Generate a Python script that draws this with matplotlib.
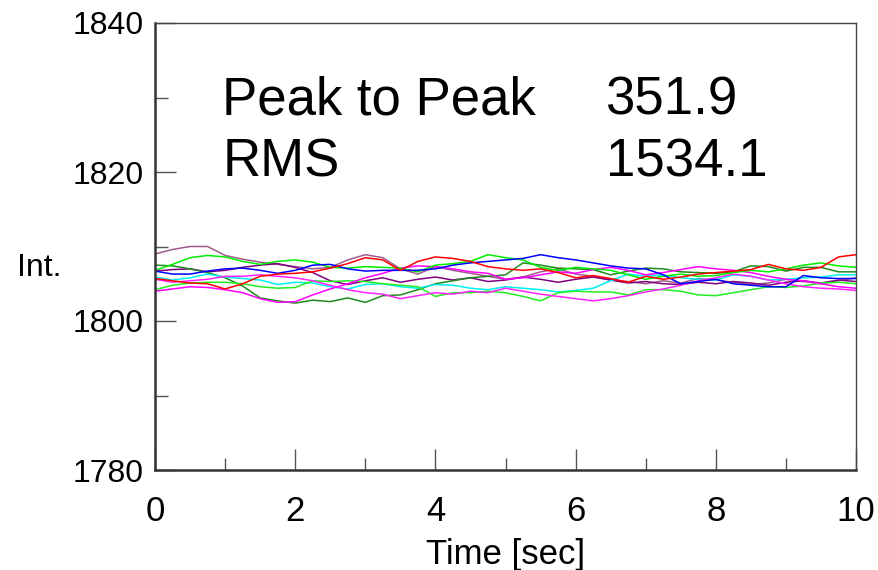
import numpy as np
import matplotlib
matplotlib.use("Agg")
import matplotlib.pyplot as plt
from matplotlib.ticker import MultipleLocator
from matplotlib import font_manager

# ---------------- data ----------------
red = [1805.7,1805.4,1805.1,1805.0,1804.3,1805.0,1806.0,1806.3,1806.4,1806.6,
       1807.1,1807.7,1808.5,1808.2,1806.8,1808.0,1808.6,1808.4,1808.0,1807.3,
       1807.0,1806.8,1807.0,1806.5,1805.8,1806.1,1805.7,1805.2,1806.0,1805.6,
       1805.9,1806.3,1806.5,1806.7,1806.9,1807.6,1807.0,1806.8,1807.2,1808.6,1808.9]
blue = [1806.7,1806.3,1806.3,1806.7,1807.0,1807.1,1806.8,1806.4,1806.8,1807.5,
        1807.6,1807.0,1806.7,1806.8,1806.8,1806.8,1807.0,1807.5,1807.8,1808.0,
        1808.2,1808.4,1808.9,1808.5,1808.2,1807.8,1807.4,1807.1,1807.0,1806.2,
        1805.0,1805.3,1805.6,1805.0,1804.8,1804.6,1804.6,1806.1,1805.8,1805.7,1805.7]
dkgreen = [1807.5,1807.4,1807.0,1806.5,1805.8,1804.7,1803.1,1802.7,1802.4,1802.8,
           1802.6,1803.1,1802.5,1803.4,1803.5,1804.2,1805.0,1805.4,1805.8,1806.0,
           1806.2,1807.8,1807.5,1807.1,1807.0,1806.9,1806.2,1806.7,1807.1,1807.0,
           1806.6,1806.5,1806.4,1806.6,1807.4,1807.3,1806.7,1807.2,1807.2,1806.6,1806.6]
mauve = [1809.0,1809.6,1810.0,1810.0,1808.8,1808.3,1807.9,1807.6,1807.3,1807.0,
         1807.2,1808.2,1808.9,1808.5,1807.0,1806.3,1807.3,1806.8,1806.4,1806.0,
         1805.6,1805.9,1806.6,1807.0,1806.3,1806.0,1805.5,1805.3,1805.0,1805.4,
         1805.1,1805.7,1805.5,1805.2,1804.9,1805.1,1805.6,1805.3,1805.0,1805.4,1805.8]
purple = [1806.7,1806.9,1807.0,1806.6,1806.8,1807.2,1807.5,1807.7,1807.2,1806.5,
          1805.4,1804.9,1805.4,1805.8,1805.2,1805.6,1805.9,1805.5,1805.8,1805.3,
          1805.5,1805.9,1805.6,1805.2,1805.6,1805.9,1805.5,1805.1,1805.3,1805.0,
          1804.9,1805.2,1805.0,1805.3,1805.1,1804.8,1805.2,1805.4,1805.1,1805.5,1805.3]
cyan = [1805.9,1805.5,1805.8,1806.3,1805.9,1805.7,1805.5,1804.9,1805.2,1805.1,
        1804.6,1804.3,1804.9,1805.0,1804.6,1804.4,1804.9,1804.8,1804.4,1804.2,
        1804.6,1804.4,1804.2,1803.9,1804.1,1804.4,1805.4,1806.3,1806.0,1806.2,
        1805.8,1805.6,1805.5,1806.2,1806.0,1805.5,1805.6,1805.8,1805.9,1806.2,1806.2]
lime_hi = [1806.8,1807.6,1808.5,1808.8,1808.6,1808.0,1807.6,1808.0,1808.2,1807.9,
           1807.2,1807.1,1807.3,1807.2,1807.1,1806.6,1807.5,1807.7,1808.0,1808.9,
           1808.5,1808.2,1807.2,1806.8,1807.2,1807.0,1806.8,1806.2,1805.6,1806.0,
           1806.3,1806.0,1806.1,1806.5,1806.8,1806.6,1807.0,1807.5,1807.8,1807.4,1807.2]
lime_lo = [1804.2,1804.8,1805.1,1805.2,1805.2,1805.0,1804.6,1804.4,1804.5,1805.4,
           1805.3,1805.4,1805.3,1805.0,1804.8,1804.6,1803.3,1803.8,1803.8,1804.0,
           1803.8,1803.3,1802.7,1803.8,1804.0,1803.9,1803.9,1803.5,1804.2,1804.2,
           1804.0,1803.5,1803.4,1803.8,1804.2,1804.6,1804.5,1804.7,1805.1,1805.2,1805.0]
magenta_a = [1804.0,1804.3,1804.6,1804.5,1804.2,1803.8,1803.0,1802.5,1802.6,1803.5,
             1804.3,1805.0,1805.8,1806.4,1807.1,1807.4,1807.3,1807.0,1806.6,1806.4,
             1805.6,1805.8,1806.2,1806.6,1806.4,1806.9,1807.2,1806.8,1806.2,1806.5,
             1806.9,1807.3,1807.0,1806.8,1806.5,1806.0,1805.6,1805.4,1805.0,1804.6,1804.4]
magenta_b = [1805.6,1805.2,1805.4,1805.6,1806.0,1806.0,1806.2,1806.0,1805.8,1805.4,
             1804.8,1804.2,1803.8,1803.6,1803.0,1803.4,1803.8,1803.6,1804.0,1803.8,
             1804.4,1804.0,1803.6,1803.3,1803.0,1802.7,1803.0,1803.4,1803.9,1804.3,
             1804.8,1805.4,1805.8,1806.3,1806.0,1805.5,1805.0,1804.6,1804.4,1804.3,1804.1]

series = [mauve, purple, dkgreen, cyan, lime_lo, magenta_b, magenta_a, lime_hi, blue, red]
colors = ['#a05a8c', '#800080', '#1f8a1f', '#00f0f0', '#22ee22', '#ff22ff',
          '#ff00ff', '#00ee00', '#0000ff', '#ff0000']

x_ticks = [0, 2, 4, 6, 8, 10]
y_ticks = [1780, 1800, 1820, 1840]
stat_labels = ['Peak to Peak', 'RMS']
stat_values = ['351.9', '1534.1']

# ---------------- fonts ----------------
avail = {f.name for f in font_manager.fontManager.ttflist}
main_font = 'Liberation Sans' if 'Liberation Sans' in avail else 'DejaVu Sans'
plt.rcParams['font.family'] = [main_font, 'DejaVu Sans']

fig = plt.figure(figsize=(8.79, 5.70), dpi=100)
ax = fig.add_axes([155/879, 100/570, 701/879, 447/570])

for s, c in zip(series, colors):
    t = np.linspace(0, 10, len(s))
    ax.plot(t, s, color=c, lw=1.1)

ax.set_xlim(0, 10)
ax.set_ylim(1780, 1840)
ax.set_xticks(x_ticks)
ax.set_yticks(y_ticks)
ax.xaxis.set_minor_locator(MultipleLocator(1))
ax.yaxis.set_minor_locator(MultipleLocator(10))
ax.tick_params(which='major', direction='in', length=15, width=1, color='#555555',
               top=False, right=False)
ax.tick_params(which='minor', direction='in', length=9, width=1, color='#555555',
               top=False, right=False)
ax.tick_params(axis='y', which='major', labelsize=23, pad=8)
ax.tick_params(axis='x', which='major', labelsize=25, pad=18)

for side in ['left', 'bottom']:
    ax.spines[side].set_linewidth(1.8)
    ax.spines[side].set_color('#333333')
for side in ['top', 'right']:
    ax.spines[side].set_linewidth(1.0)
    ax.spines[side].set_color('#444444')

ax.set_xlabel('Time [sec]', fontsize=25, labelpad=7)
ax.set_ylabel('Int.', fontsize=23, rotation=0, ha='left', va='center')
ax.yaxis.set_label_coords(-0.197, 0.452)

ax.text(0.096, 0.826, stat_labels[0], transform=ax.transAxes, fontsize=38,
        ha='left', va='center')
ax.text(0.642, 0.826, stat_values[0], transform=ax.transAxes, fontsize=38,
        ha='left', va='center')
ax.text(0.096, 0.688, stat_labels[1], transform=ax.transAxes, fontsize=38,
        ha='left', va='center')
ax.text(0.643, 0.688, stat_values[1], transform=ax.transAxes, fontsize=38,
        ha='left', va='center')

fig.savefig('out.png', dpi=100)
